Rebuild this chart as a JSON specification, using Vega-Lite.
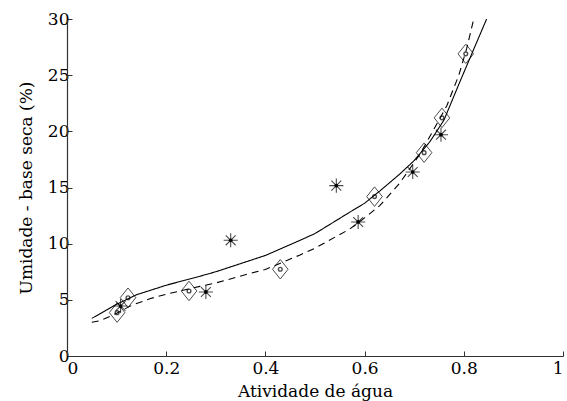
{
  "$schema": "https://vega.github.io/schema/vega-lite/v6.json",
  "autosize": "none",
  "width": 496,
  "height": 337,
  "padding": {"left": 67, "top": 19, "right": 4, "bottom": 45},
  "background": "white",
  "config": {
    "view": {"stroke": null},
    "axis": {
      "grid": false,
      "domainColor": "#333",
      "domainWidth": 1.2,
      "tickColor": "#333",
      "tickSize": -5,
      "labelFont": "DejaVu Serif",
      "labelFontSize": 17,
      "labelColor": "black",
      "titleFont": "DejaVu Serif",
      "titleFontSize": 17,
      "titleFontWeight": "normal",
      "titleColor": "black"
    }
  },
  "datasets": {
    "curves": [
      {"aw": 0.05, "m": 3.35, "model": "solid"},
      {"aw": 0.1, "m": 4.6, "model": "solid"},
      {"aw": 0.14, "m": 5.45, "model": "solid"},
      {"aw": 0.2, "m": 6.3, "model": "solid"},
      {"aw": 0.268, "m": 7.1, "model": "solid"},
      {"aw": 0.3, "m": 7.5, "model": "solid"},
      {"aw": 0.369, "m": 8.5, "model": "solid"},
      {"aw": 0.4, "m": 8.95, "model": "solid"},
      {"aw": 0.47, "m": 10.3, "model": "solid"},
      {"aw": 0.5, "m": 10.9, "model": "solid"},
      {"aw": 0.57, "m": 12.8, "model": "solid"},
      {"aw": 0.6, "m": 13.6, "model": "solid"},
      {"aw": 0.631, "m": 14.7, "model": "solid"},
      {"aw": 0.671, "m": 16.2, "model": "solid"},
      {"aw": 0.7, "m": 17.4, "model": "solid"},
      {"aw": 0.732, "m": 19.1, "model": "solid"},
      {"aw": 0.76, "m": 21.0, "model": "solid"},
      {"aw": 0.792, "m": 24.4, "model": "solid"},
      {"aw": 0.819, "m": 27.2, "model": "solid"},
      {"aw": 0.846, "m": 30.0, "model": "solid"},
      {"aw": 0.05, "m": 3.0, "model": "dashed"},
      {"aw": 0.067, "m": 3.15, "model": "dashed"},
      {"aw": 0.1, "m": 3.8, "model": "dashed"},
      {"aw": 0.13, "m": 4.5, "model": "dashed"},
      {"aw": 0.167, "m": 5.1, "model": "dashed"},
      {"aw": 0.2, "m": 5.5, "model": "dashed"},
      {"aw": 0.268, "m": 6.2, "model": "dashed"},
      {"aw": 0.3, "m": 6.5, "model": "dashed"},
      {"aw": 0.369, "m": 7.35, "model": "dashed"},
      {"aw": 0.4, "m": 7.7, "model": "dashed"},
      {"aw": 0.47, "m": 9.0, "model": "dashed"},
      {"aw": 0.5, "m": 9.6, "model": "dashed"},
      {"aw": 0.57, "m": 11.3, "model": "dashed"},
      {"aw": 0.6, "m": 12.3, "model": "dashed"},
      {"aw": 0.631, "m": 13.4, "model": "dashed"},
      {"aw": 0.671, "m": 15.4, "model": "dashed"},
      {"aw": 0.712, "m": 18.0, "model": "dashed"},
      {"aw": 0.75, "m": 21.0, "model": "dashed"},
      {"aw": 0.766, "m": 22.3, "model": "dashed"},
      {"aw": 0.79, "m": 25.0, "model": "dashed"},
      {"aw": 0.806, "m": 27.4, "model": "dashed"},
      {"aw": 0.82, "m": 30.0, "model": "dashed"}
    ],
    "points": [
      {"aw": 0.101, "m": 3.86, "kind": "diamond"},
      {"aw": 0.123, "m": 5.19, "kind": "diamond"},
      {"aw": 0.246, "m": 5.79, "kind": "diamond"},
      {"aw": 0.43, "m": 7.72, "kind": "diamond"},
      {"aw": 0.62, "m": 14.19, "kind": "diamond"},
      {"aw": 0.72, "m": 18.1, "kind": "diamond"},
      {"aw": 0.756, "m": 21.2, "kind": "diamond"},
      {"aw": 0.804, "m": 26.9, "kind": "diamond"},
      {"aw": 0.108, "m": 4.45, "kind": "star"},
      {"aw": 0.28, "m": 5.7, "kind": "star"},
      {"aw": 0.33, "m": 10.3, "kind": "star"},
      {"aw": 0.543, "m": 15.17, "kind": "star"},
      {"aw": 0.587, "m": 11.93, "kind": "star"},
      {"aw": 0.697, "m": 16.38, "kind": "star"},
      {"aw": 0.754, "m": 19.7, "kind": "star"}
    ]
  },
  "encoding": {
    "x": {
      "field": "aw",
      "type": "quantitative",
      "scale": {"domain": [0, 1], "nice": false},
      "axis": {"values": [0, 0.2, 0.4, 0.6, 0.8, 1], "format": "~g", "title": "Atividade de água", "labelPadding": 9, "titlePadding": 7}
    },
    "y": {
      "field": "m",
      "type": "quantitative",
      "scale": {"domain": [0, 30], "nice": false},
      "axis": {"values": [0, 5, 10, 15, 20, 25, 30], "title": "Umidade - base seca (%)", "labelPadding": 3, "titlePadding": 12}
    }
  },
  "layer": [
    {
      "data": {"name": "curves"},
      "mark": {"type": "line", "clip": true, "color": "black", "strokeWidth": 1.1},
      "encoding": {
        "detail": {"field": "model"},
        "strokeDash": {
          "field": "model",
          "type": "nominal",
          "scale": {"domain": ["solid", "dashed"], "range": [[1, 0], [7, 5]]},
          "legend": null
        }
      }
    },
    {
      "data": {"name": "points"},
      "transform": [{"filter": "datum.kind === 'diamond'"}],
      "mark": {"type": "point", "shape": "M0,-1L0.8,0L0,1L-0.8,0Z", "size": 380, "filled": false, "color": "black", "strokeWidth": 1}
    },
    {
      "data": {"name": "points"},
      "transform": [{"filter": "datum.kind === 'diamond'"}],
      "mark": {"type": "point", "shape": "circle", "size": 14, "filled": false, "color": "black", "strokeWidth": 1.4}
    },
    {
      "data": {"name": "points"},
      "transform": [{"filter": "datum.kind === 'star'"}],
      "mark": {"type": "point", "shape": "M0,-1L0,1M-1,0L1,0M-0.7,-0.7L0.7,0.7M-0.7,0.7L0.7,-0.7", "size": 200, "filled": false, "color": "black", "strokeWidth": 1.1}
    },
    {
      "data": {"name": "points"},
      "transform": [{"filter": "datum.kind === 'star'"}],
      "mark": {"type": "point", "shape": "circle", "size": 14, "filled": true, "color": "black", "opacity": 1}
    }
  ]
}
